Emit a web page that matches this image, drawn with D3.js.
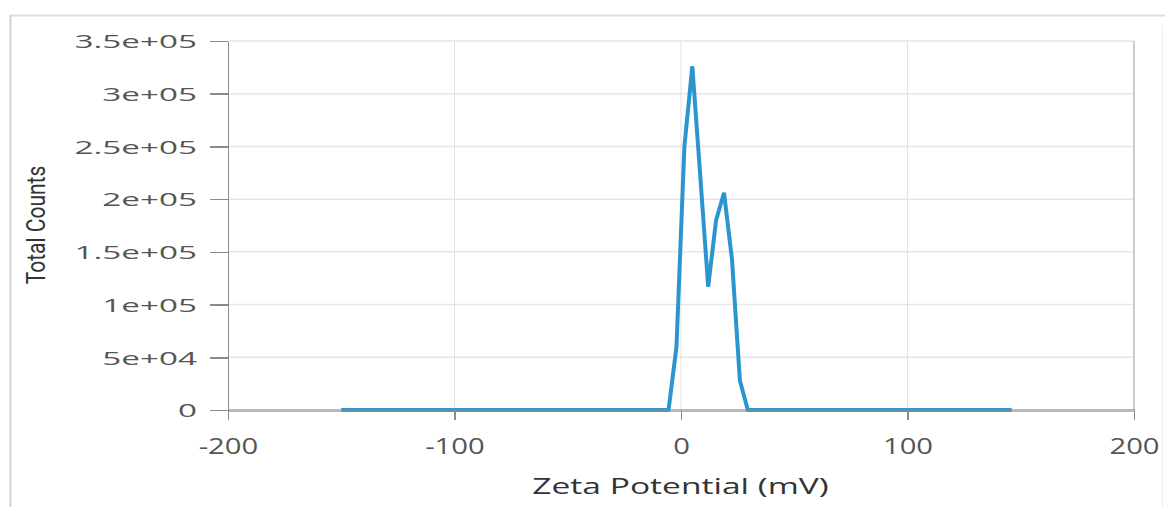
<!DOCTYPE html>
<html>
<head>
<meta charset="utf-8">
<script src="https://cdn.jsdelivr.net/npm/d3@7"></script>
<style>
  html, body { margin: 0; padding: 0; background: #fff; }
  svg { display: block; }
</style>
</head>
<body>
<div id="svg-container"></div>
<script>
// data
var zeta = [-150, -5.5, -2, 1.5, 5, 8.5, 12, 15.5, 19, 22.5, 26, 29.5, 146];
var counts = [0, 0, 60000, 250000, 326000, 222000, 117000, 180000, 206000, 143000, 28000, 0, 0];
var xTicks = [-200, -100, 0, 100, 200];
var yTicks = [0, 50000, 100000, 150000, 200000, 250000, 300000, 350000];
var yTickLabels = ["0", "5e+04", "1e+05", "1.5e+05", "2e+05", "2.5e+05", "3e+05", "3.5e+05"];

var chart = chart || {};

chart.width = 1165;
chart.height = 507;
chart.margin = {top: 41, right: 31, bottom: 97, left: 228};
chart.font = "'Open Sans', 'Noto Sans', sans-serif";

chart.build = function() {
  var m = chart.margin;
  var w = chart.width - m.left - m.right;
  var h = chart.height - m.top - m.bottom;

  var root = d3.select("#svg-container").append("svg")
      .attr("width", chart.width).attr("height", chart.height);

  // outer panel frame
  root.append("line").attr("x1", 10).attr("x2", chart.width).attr("y1", 15.5).attr("y2", 15.5)
      .attr("stroke", "#dcdcdc").attr("stroke-width", 2);
  root.append("line").attr("x1", 10.5).attr("x2", 10.5).attr("y1", 15).attr("y2", chart.height)
      .attr("stroke", "#d4d4d4").attr("stroke-width", 2);
  root.append("line").attr("x1", 1162.5).attr("x2", 1162.5).attr("y1", 25).attr("y2", chart.height)
      .attr("stroke", "#ececec").attr("stroke-width", 1);

  var svg = root.append("g").attr("transform", "translate(" + m.left + "," + m.top + ")");

  var x = d3.scaleLinear().domain([-200, 200]).range([0, w]);
  var y = d3.scaleLinear().domain([0, 350000]).range([h, 0]);

  // grid
  svg.append("g").selectAll("line").data(yTicks.slice(1)).join("line")
      .attr("x1", 0).attr("x2", w)
      .attr("y1", function(d) { return y(d); }).attr("y2", function(d) { return y(d); })
      .attr("stroke", "#e6e6e6").attr("stroke-width", 1.5);
  svg.append("g").selectAll("line").data(xTicks.slice(1, -1)).join("line")
      .attr("x1", function(d) { return x(d); }).attr("x2", function(d) { return x(d); })
      .attr("y1", 0).attr("y2", h)
      .attr("stroke", "#e2e2e2").attr("stroke-width", 1);
  // right border
  svg.append("line").attr("x1", x(200)).attr("x2", x(200)).attr("y1", 0).attr("y2", h)
      .attr("stroke", "#bdbdbd").attr("stroke-width", 1.5);

  // data line
  var line = d3.line()
      .x(function(d, i) { return x(zeta[i]); })
      .y(function(d) { return y(d); });
  svg.append("path").datum(counts)
      .attr("d", line)
      .attr("fill", "none")
      .attr("stroke", "#2a96cf")
      .attr("stroke-width", 4)
      .attr("stroke-linejoin", "miter");

  // axes
  var sxY = 1.75, sxX = 1.33;
  var yAxis = svg.append("g")
      .call(d3.axisLeft(y).tickValues(yTicks).tickSize(18).tickSizeOuter(0)
        .tickFormat(function(d, i) { return yTickLabels[i]; }));
  yAxis.select(".domain").attr("stroke", "#8a8a8a").attr("stroke-width", 1.5);
  yAxis.selectAll(".tick line").attr("stroke", "#8a8a8a").attr("stroke-width", 1.5);
  yAxis.selectAll(".tick text")
      .attr("x", -31 / sxY).attr("dy", "0.36em")
      .attr("transform", "scale(" + sxY + ",1)")
      .style("font-family", chart.font).style("font-size", "19px").attr("fill", "#555");

  var xAxis = svg.append("g").attr("transform", "translate(0," + h + ")")
      .call(d3.axisBottom(x).tickValues(xTicks).tickSize(10).tickSizeOuter(0)
        .tickFormat(d3.format("d")));
  // the axis sits over the zero baseline of the curve, greying it
  xAxis.select(".domain").attr("stroke", "#8c8c8c").attr("stroke-width", 3.5).attr("opacity", 0.6);
  xAxis.selectAll(".tick line").attr("stroke", "#8a8a8a").attr("stroke-width", 1.5);
  xAxis.selectAll(".tick text")
      .attr("y", 44).attr("dy", 0)
      .attr("transform", "scale(" + sxX + ",1)")
      .text(function(d) { return d < 0 ? "-" + Math.abs(d) : d; })
      .style("font-family", chart.font).style("font-size", "22px").attr("fill", "#555");
  svg.selectAll(".domain, .tick line").attr("shape-rendering", "crispEdges");

  // axis titles
  root.append("text")
      .attr("transform", "translate(680.5,494) scale(1.6,1)")
      .attr("text-anchor", "middle")
      .style("font-family", chart.font).style("font-size", "21px").attr("fill", "#333")
      .text("Zeta Potential (mV)");
  root.append("text")
      .attr("transform", "translate(45,225) scale(1.25,1) rotate(-90)")
      .attr("text-anchor", "middle")
      .style("font-family", "'Liberation Sans Narrow', 'Roboto', sans-serif")
      .style("font-size", "21px").attr("fill", "#333")
      .text("Total Counts");
};

chart.build();
</script>
</body>
</html>
